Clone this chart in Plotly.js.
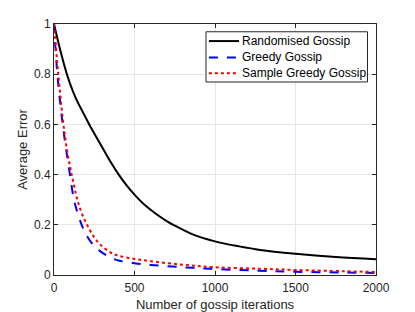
<!DOCTYPE html>
<html><head><meta charset="utf-8">
<script src="https://cdn.plot.ly/plotly-3.0.1.min.js"></script>
<style>html,body{margin:0;padding:0;background:#fff}#c{width:415px;height:312px}</style>
</head><body><div id="c"></div>
<script>
const xRand = [0,40,80,120,150,180,219,260,300,350,400,450,500,550,600,650,700,741,850,1000,1150,1280,1500,1750,2000];
const yRand = [1,0.893,0.8,0.728,0.685,0.648,0.6,0.553,0.508,0.452,0.402,0.358,0.32,0.287,0.26,0.236,0.215,0.2,0.165,0.134,0.114,0.1,0.085,0.072,0.063];
const xGreedy = [0,21,54,99,124,150,175,200,250,286,350,400,500,600,800,1000,1280,1500,1800,2000];
const yGreedy = [1,0.8,0.6,0.4,0.3,0.24,0.195,0.16,0.115,0.095,0.07,0.058,0.047,0.04,0.031,0.024,0.017,0.013,0.01,0.008];
const xSample = [0,25,55,80,110,141,170,205,250,286,350,400,500,600,800,1000,1280,1500,1800,2000];
const ySample = [1,0.81,0.62,0.5,0.4,0.31,0.25,0.2,0.15,0.122,0.09,0.077,0.064,0.055,0.041,0.031,0.025,0.02,0.015,0.012];
const seriesNames = ['Randomised Gossip','Greedy Gossip','Sample Greedy Gossip'];
const xTicks = [0,500,1000,1500,2000];
const yTicks = [0,0.2,0.4,0.6,0.8,1];
const yTickText = ['0','0.2','0.4','0.6','0.8','1'];

const FONT = 'Liberation Sans, Arial, sans-serif';
const colors = ['#000000','#0000ff','#ff0000'];
const dashes = ['solid','dash','dot'];
const xs = [xRand,xGreedy,xSample], ys = [yRand,yGreedy,ySample];
const traces = seriesNames.map((n,i)=>({x:xs[i],y:ys[i],name:n,mode:'lines',showlegend:false,
  line:{color:colors[i],width:2,dash:dashes[i],shape:'spline',smoothing:1}}));

// custom legend (paper coordinates)
const legRows = [0.932,0.867,0.804];
const shapes = [{type:'rect',xref:'paper',yref:'paper',x0:0.472,x1:0.9736,y0:0.769,y1:0.969,
  line:{color:'#262626',width:1},fillcolor:'#ffffff',layer:'above'}];
const annotations = [];
seriesNames.forEach((n,i)=>{
  shapes.push({type:'line',xref:'paper',yref:'paper',x0:0.481,x1:0.5745,y0:legRows[i],y1:legRows[i],
    line:{color:colors[i],width:2,dash:dashes[i]},layer:'above'});
  annotations.push({xref:'paper',yref:'paper',x:0.578,y:legRows[i],xanchor:'left',yanchor:'middle',showarrow:false,
    text:n,font:{family:FONT,size:12,color:'#000'}});
});

const axisCommon = {showline:true,mirror:'ticks',linecolor:'#262626',linewidth:1,ticks:'inside',ticklen:4,tickcolor:'#262626',
  showgrid:true,gridcolor:'#e6e6e6',zeroline:false,tickfont:{family:FONT,size:12,color:'#262626'}};
const layout = {
  width:415,height:312,margin:{l:54,r:39,t:24,b:37},
  paper_bgcolor:'#fff',plot_bgcolor:'#fff',showlegend:false,
  shapes:shapes,annotations:annotations,
  xaxis:Object.assign({},axisCommon,{range:[0,2000],tickvals:xTicks,ticklabelstandoff:2,
    title:{text:'Number of gossip iterations',font:{family:FONT,size:13,color:'#262626'},standoff:8}}),
  yaxis:Object.assign({},axisCommon,{range:[0,1],tickvals:yTicks,ticktext:yTickText,
    title:{text:'Average Error',font:{family:FONT,size:13,color:'#262626'},standoff:3}})
};
Plotly.newPlot('c',traces,layout,{displayModeBar:false,staticPlot:true});
</script></body></html>
